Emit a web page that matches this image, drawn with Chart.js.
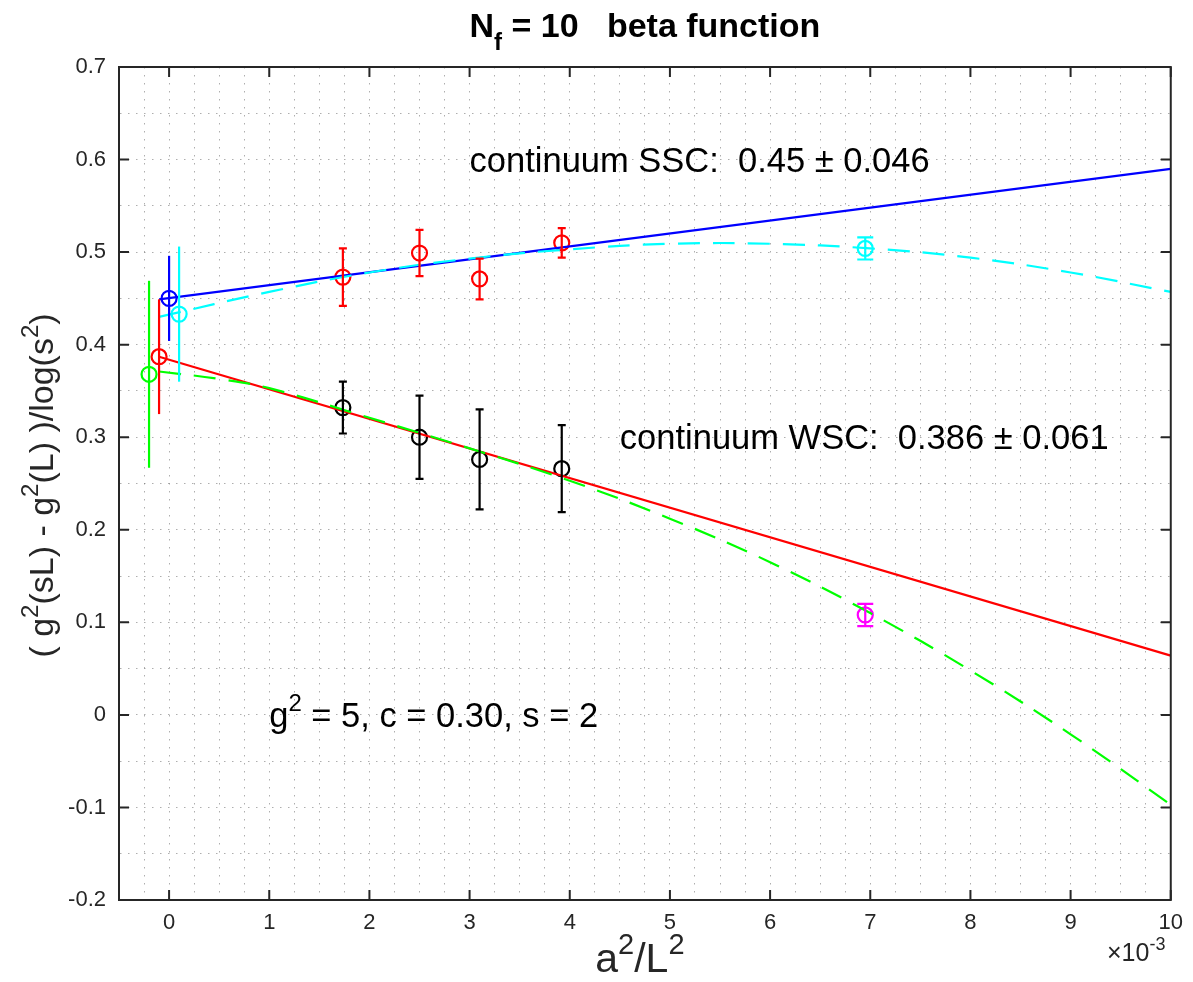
<!DOCTYPE html>
<html>
<head>
<meta charset="utf-8">
<script src="https://cdn.jsdelivr.net/npm/chart.js@4.4.1/dist/chart.umd.min.js"></script>
<style>
  html, body { margin: 0; padding: 0; background: #fff; }
  #wrap { width: 1193px; height: 982px; }
</style>
</head>
<body>
<div id="wrap"><canvas id="main-chart" width="1193" height="982"></canvas></div>
<script>
// fit lines (x in units of 1e-3)
const fitX      = [-0.1, 10];
const sscFitY   = [0.449, 0.590];
const wscFitY   = [0.387, 0.064];

// dashed curved fits
const sscCurveX = [-0.1, 1, 2, 3, 4, 5, 6, 7, 8, 9, 10];
const sscCurveY = [0.430, 0.457, 0.478, 0.493, 0.503, 0.509, 0.509, 0.504, 0.494, 0.478, 0.457];
const wscCurveX = [-0.1, 0.5, 1, 2, 3, 4, 5, 6, 7, 8, 9, 10];
const wscCurveY = [0.371, 0.363, 0.353, 0.321, 0.288, 0.253, 0.212, 0.165, 0.110, 0.048, -0.021, -0.097];

// lattice data
const latX      = [1.735, 2.5, 3.1, 3.92];
const sscY      = [0.473, 0.499, 0.471, 0.510];
const sscErr    = [0.031, 0.025, 0.022, 0.016];
const wscY      = [0.332, 0.300, 0.276, 0.266];
const wscErr    = [0.028, 0.045, 0.054, 0.047];

// continuum extrapolations (plotted slightly offset around x = 0)
const contX     = [0, 0.1, -0.1, -0.2];
const contY     = [0.450, 0.433, 0.387, 0.368];
const contErr   = [0.046, 0.073, 0.062, 0.101];
const contCol   = ['#0000ff', '#00ffff', '#ff0000', '#00ff00'];

// single points at the coarsest lattice
const farX      = [6.95];
const farSscY   = [0.504];
const farSscErr = [0.012];
const farWscY   = [0.108];
const farWscErr = [0.012];

const FONT = '"Liberation Sans", Arial, Helvetica, sans-serif';
const AXC  = '#262626';
const LW   = 2.2;

const pts = (xs, ys) => xs.map((x, i) => ({ x, y: ys[i] }));

const lineDs = (xs, ys, color, dash) => ({
  data: pts(xs, ys), showLine: true, borderColor: color, backgroundColor: 'transparent',
  borderWidth: LW, borderDash: dash || [], pointRadius: 0, tension: dash ? 0.4 : 0, fill: false,
});
const markDs = (xs, ys, color) => ({
  data: pts(xs, ys), showLine: false, borderColor: color, backgroundColor: 'transparent',
  pointStyle: 'circle', pointRadius: 7.5, pointBorderWidth: LW, pointHoverRadius: 7.5,
});

const errSets = [
  ...contX.map((x, i) => ({ xs: [x], ys: [contY[i]], err: [contErr[i]], color: contCol[i], cap: 0 })),
  { xs: latX, ys: sscY, err: sscErr, color: '#ff0000', cap: 4 },
  { xs: latX, ys: wscY, err: wscErr, color: '#000000', cap: 4 },
  { xs: farX, ys: farSscY, err: farSscErr, color: '#00ffff', cap: 8 },
  { xs: farX, ys: farWscY, err: farWscErr, color: '#ff00ff', cap: 8 },
];

// text with sub/superscripts
function rich(ctx, parts, x, y, size, align, weight) {
  const w = weight || 'normal';
  const fontOf = p => `${w} ${p.sup || p.sub ? Math.round(size * 0.7) : size}px ${FONT}`;
  let total = 0;
  parts.forEach(p => { ctx.font = fontOf(p); total += ctx.measureText(p.t).width; });
  let cx = align === 'center' ? x - total / 2 : x;
  ctx.textAlign = 'left';
  ctx.textBaseline = 'alphabetic';
  parts.forEach(p => {
    ctx.font = fontOf(p);
    const dy = p.sup ? -size * 0.45 : p.sub ? size * 0.38 : 0;
    ctx.fillText(p.t, cx, y + dy);
    cx += ctx.measureText(p.t).width;
  });
}

const overlay = {
  id: 'overlay',
  afterDatasetsDraw(chart) {
    const { ctx, scales: { x, y } } = chart;
    errSets.forEach(s => {
      ctx.save();
      ctx.strokeStyle = s.color;
      ctx.lineWidth = LW;
      s.xs.forEach((xv, i) => {
        const px  = x.getPixelForValue(xv);
        const top = y.getPixelForValue(s.ys[i] + s.err[i]);
        const bot = y.getPixelForValue(s.ys[i] - s.err[i]);
        ctx.beginPath();
        ctx.moveTo(px, top); ctx.lineTo(px, bot);
        if (s.cap) {
          ctx.moveTo(px - s.cap, top); ctx.lineTo(px + s.cap, top);
          ctx.moveTo(px - s.cap, bot); ctx.lineTo(px + s.cap, bot);
        }
        ctx.stroke();
      });
      ctx.restore();
    });
  },
  afterDraw(chart) {
    const { ctx, chartArea: a, scales: { x, y } } = chart;
    ctx.save();
    // box + inward ticks on all sides
    ctx.strokeStyle = AXC;
    ctx.lineWidth = 2;
    ctx.strokeRect(a.left, a.top, a.right - a.left, a.bottom - a.top);
    ctx.beginPath();
    x.ticks.filter(t => Math.abs(t.value - Math.round(t.value)) < 1e-6).forEach(t => {
      const px = x.getPixelForValue(t.value);
      ctx.moveTo(px, a.bottom); ctx.lineTo(px, a.bottom - 10);
      ctx.moveTo(px, a.top);    ctx.lineTo(px, a.top + 10);
    });
    y.ticks.filter(t => Math.abs(t.value * 10 - Math.round(t.value * 10)) < 1e-6).forEach(t => {
      const py = y.getPixelForValue(t.value);
      ctx.moveTo(a.left, py);  ctx.lineTo(a.left + 10, py);
      ctx.moveTo(a.right, py); ctx.lineTo(a.right - 10, py);
    });
    ctx.stroke();

    ctx.fillStyle = '#000';
    // annotations placed in data coordinates
    rich(ctx, [{ t: 'continuum SSC:  0.45 \u00b1 0.046' }], x.getPixelForValue(3.0), y.getPixelForValue(0.6) + 12, 34.5);
    rich(ctx, [{ t: 'continuum WSC:  0.386 \u00b1 0.061' }], x.getPixelForValue(4.5), y.getPixelForValue(0.3) + 12, 34.5);
    rich(ctx, [{ t: 'g' }, { t: '2', sup: true }, { t: ' = 5, c = 0.30, s = 2' }],
      x.getPixelForValue(1.0), y.getPixelForValue(0.0) + 12, 34.5);

    // title
    const cx = (a.left + a.right) / 2;
    rich(ctx, [{ t: 'N' }, { t: 'f', sub: true }, { t: ' = 10   beta function' }], cx, 37, 34, 'center', 'bold');

    // axis titles
    ctx.fillStyle = '#262626';
    rich(ctx, [{ t: 'a' }, { t: '2', sup: true }, { t: '/L' }, { t: '2', sup: true }], cx - 5, 972, 41, 'center');
    rich(ctx, [{ t: '\u00d710' }, { t: '-3', sup: true }], 1107, 961, 25);
    ctx.save();
    ctx.translate(53, (a.top + a.bottom) / 2 + 2);
    ctx.rotate(-Math.PI / 2);
    rich(ctx, [{ t: '( g' }, { t: '2', sup: true }, { t: '(sL) - g' }, { t: '2', sup: true },
               { t: '(L) )/log(s' }, { t: '2', sup: true }, { t: ')' }], 0, 0, 34, 'center');
    ctx.restore();
    ctx.restore();
  }
};

const grid = { color: 'rgba(120,120,120,0.6)', lineWidth: 1, drawTicks: false };
const border = { color: AXC, width: 2, dash: [1.5, 6.5] };

new Chart(document.getElementById('main-chart'), {
  type: 'scatter',
  data: {
    datasets: [
      lineDs(sscCurveX, sscCurveY, '#00ffff', [22, 13]),
      lineDs(wscCurveX, wscCurveY, '#00ff00', [22, 13]),
      lineDs(fitX, sscFitY, '#0000ff'),
      lineDs(fitX, wscFitY, '#ff0000'),
      markDs(latX, sscY, '#ff0000'),
      markDs(latX, wscY, '#000000'),
      markDs(farX, farSscY, '#00ffff'),
      markDs(farX, farWscY, '#ff00ff'),
      ...contX.map((x, i) => markDs([x], [contY[i]], contCol[i])),
    ]
  },
  options: {
    responsive: false,
    animation: false,
    devicePixelRatio: 1,
    layout: { padding: { top: 67, right: 21, left: 0, bottom: 0 } },
    plugins: { legend: { display: false }, tooltip: { enabled: false } },
    scales: {
      x: {
        type: 'linear', min: -0.5, max: 10,
        grid, border,
        afterFit: s => { s.height = 82; },
        ticks: {
          stepSize: 0.25, autoSkip: false, maxRotation: 0, padding: 10,
          color: AXC, font: { family: FONT, size: 22 },
          callback: v => Math.abs(v - Math.round(v)) < 1e-6 ? String(Math.round(v)) : ''
        }
      },
      y: {
        type: 'linear', min: -0.2, max: 0.7,
        grid, border,
        afterFit: s => { s.width = 119; },
        ticks: {
          stepSize: 0.05, autoSkip: false, padding: 13,
          color: AXC, font: { family: FONT, size: 22 },
          callback: v => Math.abs(v * 10 - Math.round(v * 10)) < 1e-6 ? String(Math.round(v * 10) / 10) : ''
        }
      }
    }
  },
  plugins: [overlay]
});
</script>
</body>
</html>
